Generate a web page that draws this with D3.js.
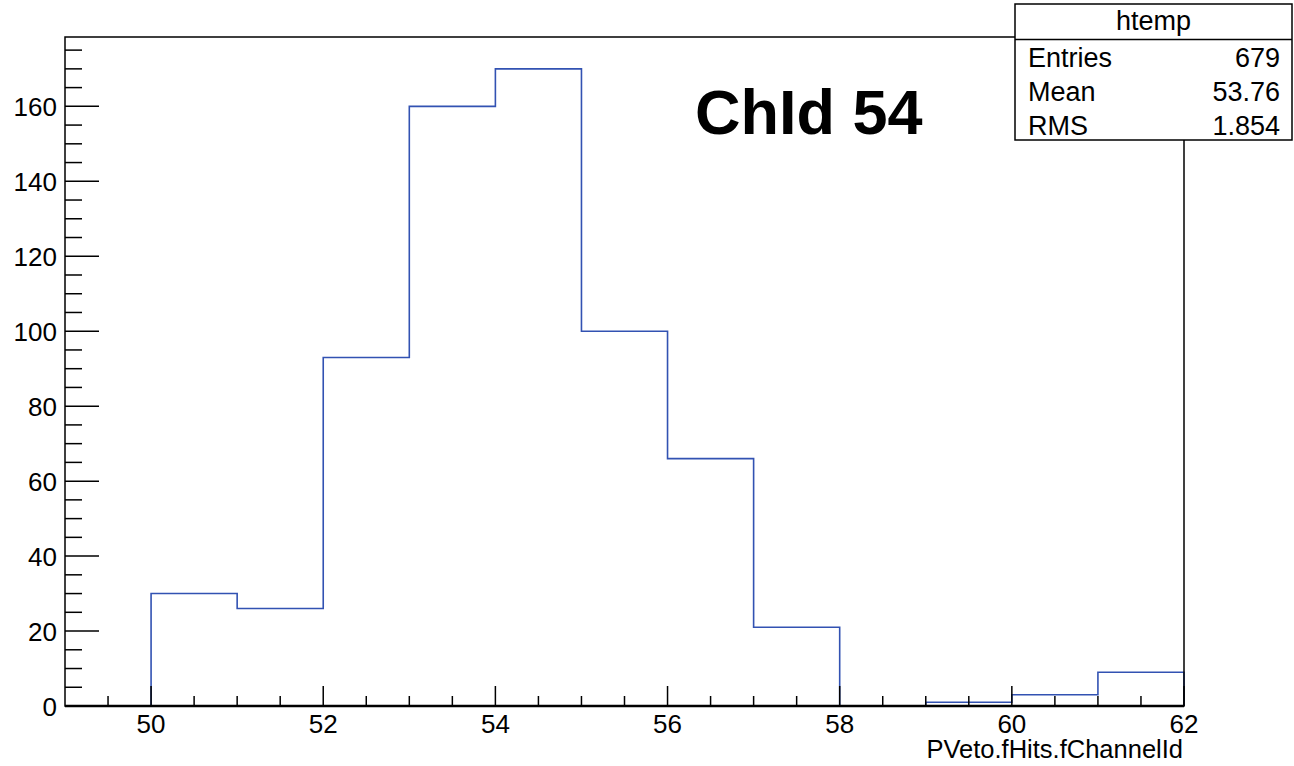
<!DOCTYPE html>
<html>
<head>
<meta charset="utf-8">
<script src="https://cdn.jsdelivr.net/npm/d3@7"></script>
<style>
  body { margin: 0; background: #fff; }
  text { font-family: "Liberation Sans", Arial, sans-serif; fill: #000; }
</style>
</head>
<body>
<div id="chart"></div>
<script>
// histogram bins (lower edge) and counts
const binEdges = [49, 50, 51, 52, 53, 54, 55, 56, 57, 58, 59, 60, 61];
const counts = [0, 30, 26, 93, 160, 170, 100, 66, 21, 0, 1, 3, 9];
const xTickLabels = [50, 52, 54, 56, 58, 60, 62];
const yTickLabels = [0, 20, 40, 60, 80, 100, 120, 140, 160];
const statNames = ["Entries", "Mean", "RMS"];
const statValues = ["679", "53.76", "1.854"];

const W = 1294, H = 766;
const margin = { left: 65, right: 110, top: 37, bottom: 60 };

const svg = d3.select('#chart').append('svg')
    .attr('width', W).attr('height', H);

const x = d3.scaleLinear().domain([49, 62]).range([margin.left, W - margin.right]);
const y = d3.scaleLinear().domain([0, 178.5]).range([H - margin.bottom, margin.top]);

const x0 = x.range()[0], x1 = x.range()[1];
const y0 = y.range()[0], y1 = y.range()[1];

//histogram step path
let pts = [];
binEdges.forEach((e, i) => {
    pts.push([x(e), y(counts[i])]);
    pts.push([x(e + 1), y(counts[i])]);
});
pts.unshift([x(binEdges[0]), y(0)]);
pts.push([x(binEdges[binEdges.length - 1] + 1), y(0)]);
svg.append('path')
    .attr('d', d3.line()(pts))
    .attr('fill', 'none')
    .attr('stroke', '#3252b2')
    .attr('stroke-width', 1.6);

//frame (drawn over the histogram baseline)
svg.append('rect')
    .attr('x', x0).attr('y', y1)
    .attr('width', x1 - x0).attr('height', y0 - y1)
    .attr('fill', 'none').attr('stroke', '#000').attr('stroke-width', 1.5);
svg.append('line')
    .attr('x1', x0).attr('x2', x1).attr('y1', y0).attr('y2', y0)
    .attr('stroke', '#000').attr('stroke-width', 2.5);

//x ticks: every 0.5, major every 2
const tickG = svg.append('g').attr('stroke', '#000').attr('stroke-width', 1.5);
for (let v = 49.5; v <= 62.001; v += 0.5) {
    let major = Math.abs(v % 2) < 1e-6;
    tickG.append('line')
        .attr('x1', x(v)).attr('x2', x(v))
        .attr('y1', y0).attr('y2', y0 - (major ? 20 : 10));
}
//y ticks: every 5, major every 20
for (let v = 0; v <= 178; v += 5) {
    let major = v % 20 === 0;
    tickG.append('line')
        .attr('x1', x0).attr('x2', x0 + (major ? 34 : 17))
        .attr('y1', y(v)).attr('y2', y(v));
}

svg.append('g').selectAll('text')
    .data(xTickLabels).enter().append('text')
    .attr('x', d => x(d)).attr('y', y0 + 27)
    .attr('text-anchor', 'middle')
    .style('font-size', '26px')
    .text(d => d);

svg.append('g').selectAll('text')
    .data(yTickLabels).enter().append('text')
    .attr('x', x0 - 8).attr('y', d => y(d) + 10)
    .attr('text-anchor', 'end')
    .style('font-size', '26px')
    .text(d => d);

//axis title
svg.append('text')
    .attr('x', x1 - 1).attr('y', 758)
    .attr('text-anchor', 'end')
    .style('font-size', '25.5px')
    .text('PVeto.fHits.fChannelId');

//big label
svg.append('text')
    .attr('x', 695).attr('y', 134)
    .style('font-size', '63px')
    .style('font-weight', 'bold')
    .text('ChId 54');

//stat box
const bx = 1015, by = 4, bw = 277, bh = 136;
const sb = svg.append('g');
sb.append('rect')
    .attr('x', bx).attr('y', by).attr('width', bw).attr('height', bh)
    .attr('fill', '#fff').attr('stroke', '#000').attr('stroke-width', 1.5);
sb.append('line')
    .attr('x1', bx).attr('x2', bx + bw).attr('y1', 39.5).attr('y2', 39.5)
    .attr('stroke', '#000').attr('stroke-width', 1.5);
sb.append('text')
    .attr('x', bx + bw / 2).attr('y', 30)
    .attr('text-anchor', 'middle')
    .style('font-size', '27px')
    .text('htemp');
statNames.forEach((n, i) => {
    let ty = 67 + i * 34;
    sb.append('text').attr('x', bx + 13).attr('y', ty)
        .style('font-size', '27px').text(n);
    sb.append('text').attr('x', bx + bw - 12).attr('y', ty)
        .attr('text-anchor', 'end')
        .style('font-size', '27px').text(statValues[i]);
});
</script>
</body>
</html>
